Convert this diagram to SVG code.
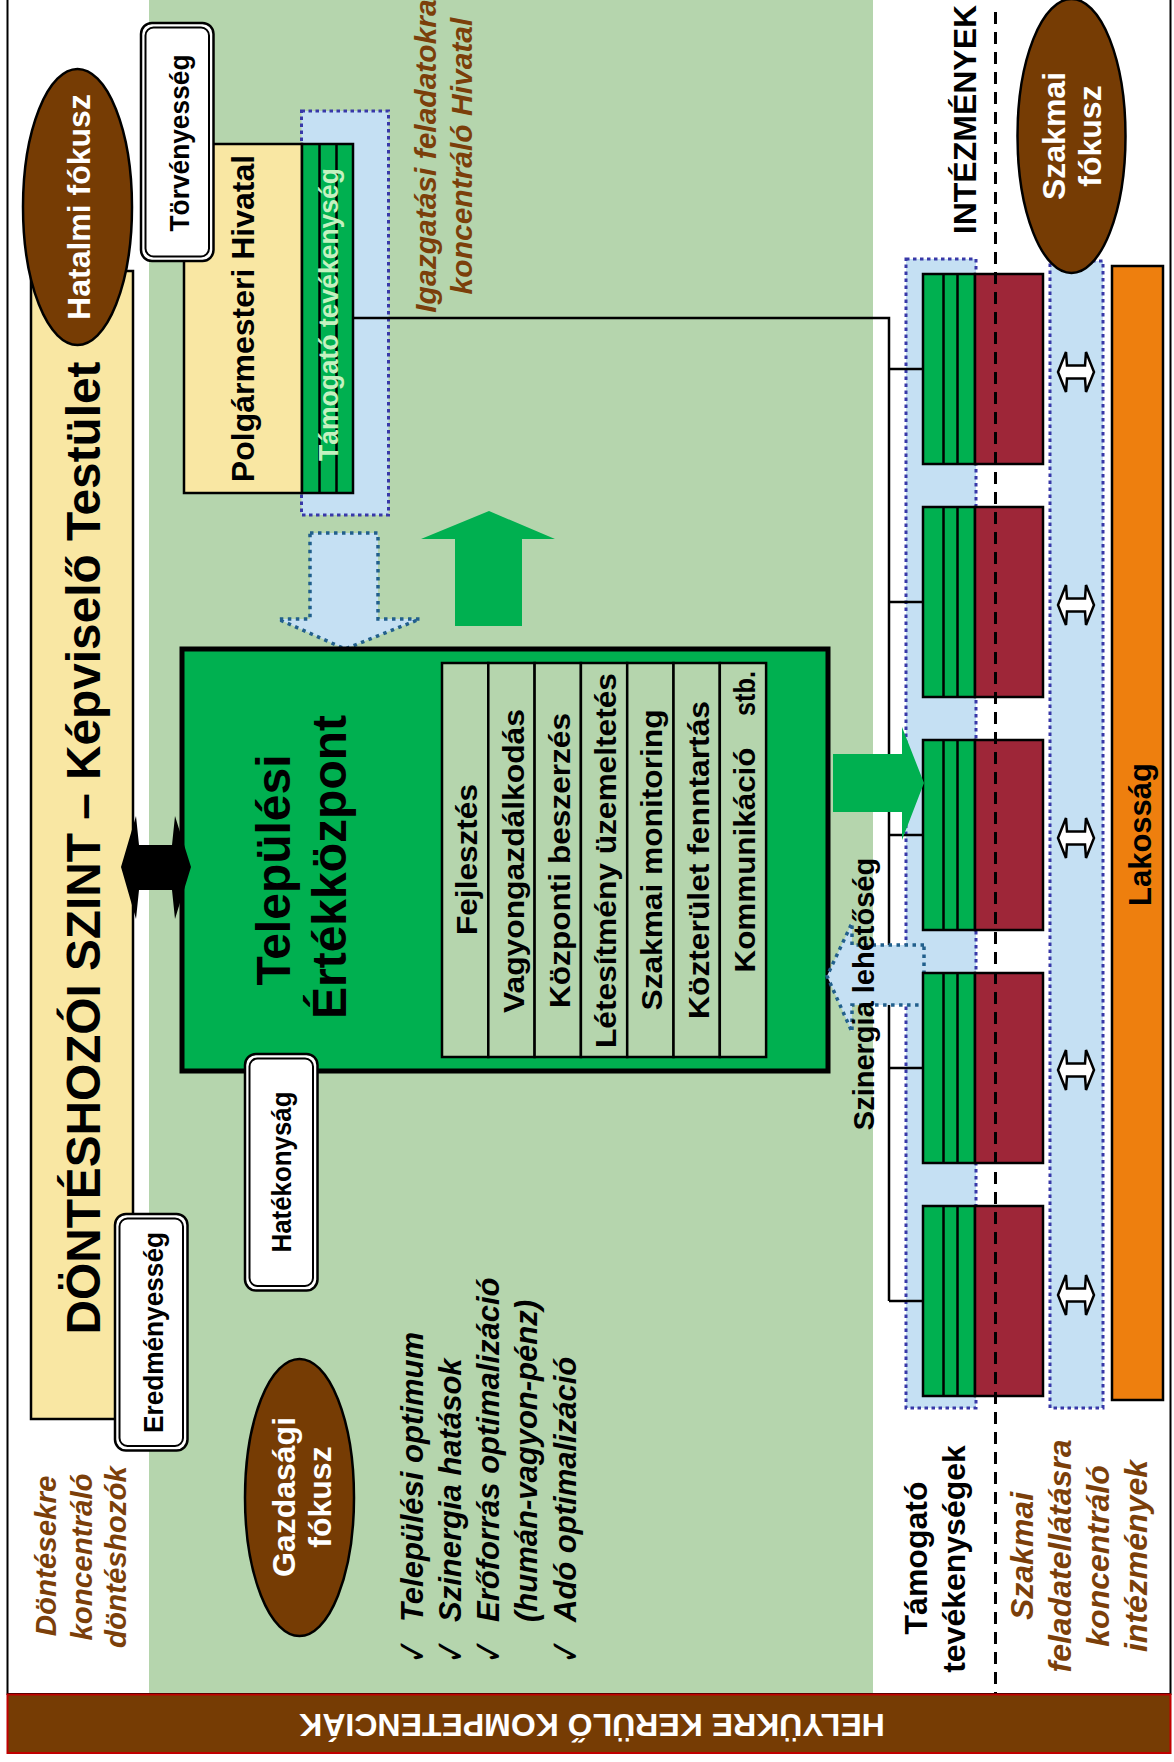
<svg xmlns="http://www.w3.org/2000/svg" width="1174" height="1762" viewBox="0 0 1174 1762">
  <defs>
    <style>
      text { font-family: "Liberation Sans", Arial, sans-serif; }
      .b { font-weight: bold; }
      .bi { font-weight: bold; font-style: italic; }
      .mid { text-anchor: middle; }
      .brown { fill: #7b3f0a; }
      .white { fill: #ffffff; }
      .tick { font-family: "DejaVu Sans", sans-serif; font-weight: bold; }
      .focus { fill: #763c04; stroke: #000; stroke-width: 2.5; }
      .yellow { fill: #f9e7a3; stroke: #000; stroke-width: 2.5; }
      .zone { fill: #c5e0f3; stroke: #3838a8; stroke-width: 3; stroke-dasharray: 3.5 3.5; }
      .flow { fill: #c5e0f3; stroke: #215f8c; stroke-width: 3.5; stroke-dasharray: 3.5 4.5; }
      .sup { fill: #00b050; stroke: #000; stroke-width: 2.5; }
      .core { fill: #9e2638; stroke: #000; stroke-width: 2.5; }
      .ln { fill: none; stroke: #000; stroke-width: 2.5; }
      .tag-o { fill: #fff; stroke: #000; stroke-width: 2.5; }
      .tag-i { fill: none; stroke: #000; stroke-width: 2; }
      .cell { fill: #b5d5ad; stroke: #000; stroke-width: 2.5; }
      .dbl { fill: #fff; stroke: #000; stroke-width: 2.5; stroke-linejoin: miter; }
    </style>
  </defs>

  <!-- canvas and background zone -->
  <rect x="0" y="0" width="1174" height="1762" fill="#fff"/>
  <rect id="zone-bg" x="149" y="0" width="724" height="1694" fill="#b5d5ad"/>
  <rect id="frame" x="7.5" y="-3" width="1163" height="1697" fill="none" stroke="#000" stroke-width="2"/>

  <!-- decision level -->
  <g id="kepviselo-testulet">
    <rect class="yellow" x="31" y="271" width="102" height="1148"/>
    <text class="b mid" font-size="48" transform="translate(100,848) rotate(-90)" textLength="973" lengthAdjust="spacingAndGlyphs">DÖNTÉSHOZÓI SZINT – Képviselő Testület</text>
  </g>

  <g id="hatalmi-fokusz">
    <ellipse class="focus" cx="77.5" cy="207" rx="54.5" ry="138"/>
    <text class="b mid white" font-size="32" transform="translate(90,207) rotate(-90)">Hatalmi fókusz</text>
  </g>

  <g id="eredmenyesseg">
    <rect class="tag-o" x="115" y="1214" width="72.5" height="236.5" rx="11"/>
    <rect class="tag-i" x="119.5" y="1218.5" width="63.5" height="227.5" rx="8"/>
    <text class="b mid" font-size="28" transform="translate(162.5,1332.5) rotate(-90)" textLength="201" lengthAdjust="spacingAndGlyphs">Eredményesség</text>
  </g>

  <!-- mayor's office -->
  <g id="hivatal">
    <rect class="zone" x="301.5" y="111" width="87" height="404"/>
    <rect class="yellow" x="184" y="144" width="118" height="349"/>
    <text class="b mid" font-size="32" transform="translate(254,318.5) rotate(-90)">Polgármesteri Hivatal</text>
    <rect class="sup" x="302" y="144" width="51" height="349"/>
    <line class="ln" x1="319.5" y1="144" x2="319.5" y2="493"/>
    <line class="ln" x1="336.5" y1="144" x2="336.5" y2="493"/>
    <text class="b mid" font-size="28" fill="#c4f2c0" transform="translate(338,314.5) rotate(-90)" textLength="293" lengthAdjust="spacingAndGlyphs">Támogató tevékenység</text>
  </g>

  <g id="torvenyesseg">
    <rect class="tag-o" x="141" y="23" width="72.5" height="238" rx="11"/>
    <rect class="tag-i" x="145.5" y="27.5" width="63.5" height="229" rx="8"/>
    <text class="b mid" font-size="28" transform="translate(189,143) rotate(-90)" textLength="177" lengthAdjust="spacingAndGlyphs">Törvényesség</text>
  </g>

  <g id="igazgatasi-label" class="bi mid brown" font-size="30">
    <text transform="translate(436,156) rotate(-90)">Igazgatási feladatokra</text>
    <text transform="translate(472,156) rotate(-90)">koncentráló Hivatal</text>
  </g>

  <!-- flows between office and value centre -->
  <g id="flow-down">
    <polygon class="flow" points="310,533 378,533 378,619 420,619 345,649 278,619 310,619"/>
  </g>
  <g id="flow-up">
    <polygon fill="#00b050" points="489,511 555,539 522,539 522,626 455,626 455,539 421,539"/>
  </g>

  <!-- value centre -->
  <g id="ertekkozpont">
    <rect x="182" y="649" width="646" height="422" fill="#00b050" stroke="#000" stroke-width="5"/>
    <text class="b mid" font-size="48" transform="translate(290,870) rotate(-90)">Települési</text>
    <text class="b mid" font-size="48" transform="translate(346,867) rotate(-90)">Értékközpont</text>
    <g id="feladatok">
      <rect class="cell" x="442" y="663" width="46.3" height="394"/>
      <rect class="cell" x="488.3" y="663" width="46.3" height="394"/>
      <rect class="cell" x="534.6" y="663" width="46.3" height="394"/>
      <rect class="cell" x="580.9" y="663" width="46.3" height="394"/>
      <rect class="cell" x="627.2" y="663" width="46.3" height="394"/>
      <rect class="cell" x="673.5" y="663" width="46.3" height="394"/>
      <rect class="cell" x="719.8" y="663" width="46.3" height="394"/>
      <g class="b mid" font-size="29">
        <text transform="translate(477,859.5) rotate(-90)" textLength="151" lengthAdjust="spacingAndGlyphs">Fejlesztés</text>
        <text transform="translate(523.5,861) rotate(-90)" textLength="304" lengthAdjust="spacingAndGlyphs">Vagyongazdálkodás</text>
        <text transform="translate(570,860.5) rotate(-90)" textLength="295" lengthAdjust="spacingAndGlyphs">Központi beszerzés</text>
        <text transform="translate(616,860.5) rotate(-90)" textLength="375" lengthAdjust="spacingAndGlyphs">Létesítmény üzemeltetés</text>
        <text transform="translate(662,860) rotate(-90)" textLength="301" lengthAdjust="spacingAndGlyphs">Szakmai monitoring</text>
        <text transform="translate(708.5,860) rotate(-90)" textLength="318" lengthAdjust="spacingAndGlyphs">Közterület fenntartás</text>
        <text transform="translate(755,860) rotate(-90)" textLength="225" lengthAdjust="spacingAndGlyphs">Kommunikáció</text>
        <text transform="translate(755,693.5) rotate(-90)" textLength="45" lengthAdjust="spacingAndGlyphs">stb.</text>
      </g>
    </g>
  </g>

  <g id="dontes-kapcsolat">
    <polygon fill="#000" points="121,867 136,816 139,845 172,845 175,816 191,867 175,919 172,890 139,890 136,919"/>
  </g>

  <g id="hatekonysag">
    <rect class="tag-o" x="245" y="1054" width="72.5" height="236.5" rx="11"/>
    <rect class="tag-i" x="249.5" y="1058.5" width="63.5" height="227.5" rx="8"/>
    <text class="b mid" font-size="28" transform="translate(291,1172) rotate(-90)" textLength="161" lengthAdjust="spacingAndGlyphs">Hatékonyság</text>
  </g>

  <g id="gazdasagi-fokusz">
    <ellipse class="focus" cx="299.5" cy="1497.5" rx="54.5" ry="138.5"/>
    <text class="b mid white" font-size="32" transform="translate(295,1497) rotate(-90)">Gazdasági</text>
    <text class="b mid white" font-size="32" transform="translate(331,1497) rotate(-90)">fókusz</text>
  </g>

  <g id="celok" font-size="31">
    <text class="bi" transform="translate(423,1622) rotate(-90)">Települési optimum</text>
    <text class="bi" transform="translate(461,1622) rotate(-90)">Szinergia hatások</text>
    <text class="bi" transform="translate(499,1622) rotate(-90)">Erőforrás optimalizáció</text>
    <text class="bi" transform="translate(537,1622) rotate(-90)">(humán-vagyon-pénz)</text>
    <text class="bi" transform="translate(576,1622) rotate(-90)">Adó optimalizáció</text>
    <text class="tick" font-size="42" transform="translate(427,1664) rotate(-90)" textLength="26" lengthAdjust="spacingAndGlyphs">✓</text>
    <text class="tick" font-size="42" transform="translate(465,1664) rotate(-90)" textLength="26" lengthAdjust="spacingAndGlyphs">✓</text>
    <text class="tick" font-size="42" transform="translate(503,1664) rotate(-90)" textLength="26" lengthAdjust="spacingAndGlyphs">✓</text>
    <text class="tick" font-size="42" transform="translate(580,1664) rotate(-90)" textLength="26" lengthAdjust="spacingAndGlyphs">✓</text>
  </g>

  <g id="donteshozok-label" class="bi mid brown" font-size="29.5">
    <text transform="translate(55.5,1556) rotate(-90)">Döntésekre</text>
    <text transform="translate(91.5,1557) rotate(-90)">koncentráló</text>
    <text transform="translate(126,1557) rotate(-90)">döntéshozók</text>
  </g>

  <!-- institutions -->
  <g id="tamogato-zona">
    <rect class="zone" x="906" y="259" width="70" height="1149"/>
  </g>
  <g id="szakmai-zona">
    <rect class="zone" x="1050" y="261" width="53" height="1147"/>
  </g>
  <g id="lakossag">
    <rect x="1112" y="266" width="51" height="1134" fill="#ee7f0e" stroke="#000" stroke-width="2.5"/>
    <text class="b mid" font-size="31" transform="translate(1151,834.5) rotate(-90)">Lakosság</text>
  </g>

  <g id="connectors" class="ln">
    <path d="M353,318 H889 V1301"/>
    <path d="M889,369 H923"/>
    <path d="M889,602 H923"/>
    <path d="M889,835 H923"/>
    <path d="M889,1068 H923"/>
    <path d="M889,1301 H923"/>
  </g>

  <g id="szinergia">
    <polygon class="flow" points="924,945 852,945 852,923 827,976 852,1032 852,1005 924,1005"/>
  </g>

  <g id="intezmeny-1">
    <rect class="sup" x="923" y="274" width="52" height="190"/>
    <path class="ln" d="M943.5,274 V464 M957.5,274 V464"/>
    <rect class="core" x="975" y="274" width="68" height="190"/>
  </g>
  <g id="intezmeny-2">
    <rect class="sup" x="923" y="507" width="52" height="190"/>
    <path class="ln" d="M943.5,507 V697 M957.5,507 V697"/>
    <rect class="core" x="975" y="507" width="68" height="190"/>
  </g>
  <g id="intezmeny-3">
    <rect class="sup" x="923" y="740" width="52" height="190"/>
    <path class="ln" d="M943.5,740 V930 M957.5,740 V930"/>
    <rect class="core" x="975" y="740" width="68" height="190"/>
  </g>
  <g id="intezmeny-4">
    <rect class="sup" x="923" y="973" width="52" height="190"/>
    <path class="ln" d="M943.5,973 V1163 M957.5,973 V1163"/>
    <rect class="core" x="975" y="973" width="68" height="190"/>
  </g>
  <g id="intezmeny-5">
    <rect class="sup" x="923" y="1206" width="52" height="190"/>
    <path class="ln" d="M943.5,1206 V1396 M957.5,1206 V1396"/>
    <rect class="core" x="975" y="1206" width="68" height="190"/>
  </g>

  <g id="flow-right">
    <polygon fill="#00b050" points="833,754 902,754 902,727 924,783 902,840 902,812 833,812"/>
  </g>

  <line id="hatar" x1="995.5" y1="12" x2="995.5" y2="1694" stroke="#000" stroke-width="3" stroke-dasharray="12 8"/>

  <g id="kapcsolatok">
    <polygon class="dbl" points="1058,372 1066,352 1067,365.5 1085,365.5 1086,352 1094,372 1086,392 1085,378.5 1067,378.5 1066,392"/>
    <polygon class="dbl" points="1058,605 1066,585 1067,598.5 1085,598.5 1086,585 1094,605 1086,625 1085,611.5 1067,611.5 1066,625"/>
    <polygon class="dbl" points="1058,838 1066,818 1067,831.5 1085,831.5 1086,818 1094,838 1086,858 1085,844.5 1067,844.5 1066,858"/>
    <polygon class="dbl" points="1058,1070 1066,1050 1067,1063.5 1085,1063.5 1086,1050 1094,1070 1086,1090 1085,1076.5 1067,1076.5 1066,1090"/>
    <polygon class="dbl" points="1058,1295 1066,1275 1067,1288.5 1085,1288.5 1086,1275 1094,1295 1086,1315 1085,1301.5 1067,1301.5 1066,1315"/>
  </g>

  <g id="szakmai-fokusz">
    <ellipse class="focus" cx="1071.5" cy="136" rx="54" ry="137"/>
    <text class="b mid white" font-size="32" transform="translate(1065,136) rotate(-90)">Szakmai</text>
    <text class="b mid white" font-size="32" transform="translate(1101,136) rotate(-90)">fókusz</text>
  </g>

  <text id="intezmenyek" class="b mid" font-size="32" transform="translate(976,119.5) rotate(-90)">INTÉZMÉNYEK</text>

  <g id="tamogato-label" class="b mid" font-size="32">
    <text transform="translate(926.5,1558) rotate(-90)">Támogató</text>
    <text transform="translate(964.5,1559) rotate(-90)">tevékenységek</text>
  </g>

  <g id="szakmai-label" class="bi mid brown" font-size="32">
    <text transform="translate(1032.5,1556) rotate(-90)">Szakmai</text>
    <text transform="translate(1070.5,1556) rotate(-90)">feladatellátásra</text>
    <text transform="translate(1108.5,1556) rotate(-90)">koncentráló</text>
    <text transform="translate(1146.5,1556) rotate(-90)">intézmények</text>
  </g>

  <text id="szinergia-label" class="b mid" font-size="29" transform="translate(873.5,994) rotate(-90)">Szinergia lehetőség</text>

  <!-- bottom banner -->
  <g id="kompetenciak">
    <rect x="7.5" y="1694.5" width="1163" height="58.5" fill="#763c04" stroke="#c00000" stroke-width="2"/>
    <text class="b mid white" font-size="32" transform="translate(592,1725) rotate(180)" dy="11.5">HELYÜKRE KERÜLŐ KOMPETENCIÁK</text>
  </g>
</svg>
